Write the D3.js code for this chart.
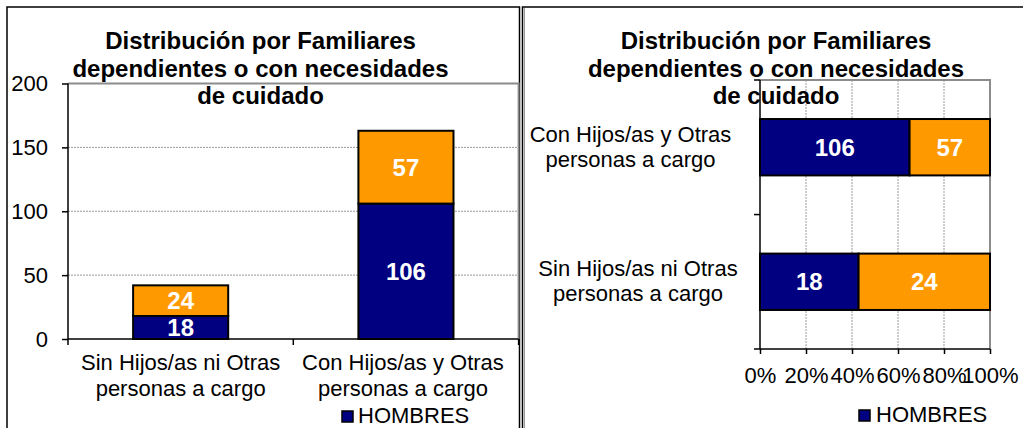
<!DOCTYPE html>
<html>
<head>
<meta charset="utf-8">
<script src="https://cdn.jsdelivr.net/npm/d3@7"></script>
<style>
  html, body { margin: 0; padding: 0; background: #fff; }
  svg { display: block; font-family: "Liberation Sans", Arial, sans-serif; }
</style>
</head>
<body>
<svg id="chart" width="1023" height="428"></svg>
<script>
// ---- data ----
const categories = ["Sin Hijos/as ni Otras personas a cargo", "Con Hijos/as y Otras personas a cargo"];
const categoryLines = [["Sin Hijos/as ni Otras", "personas a cargo"], ["Con Hijos/as y Otras", "personas a cargo"]];
const hombres = [18, 106];
const mujeres = [24, 57];
const countTicks = [0, 50, 100, 150, 200];
const pctTicks = [0, 0.2, 0.4, 0.6, 0.8, 1];
const titleLines = ["Distribución por Familiares", "dependientes o con necesidades", "de cuidado"];
const legendLabel = "HOMBRES";

const NAVY = "#000080", ORANGE = "#FF9900";
const svg = d3.select("#chart");

// panel frames
svg.append("rect").attr("x", 7).attr("y", 7).attr("width", 512.5).attr("height", 440)
  .attr("fill", "none").attr("stroke", "#000").attr("stroke-width", 1.5);
svg.append("rect").attr("x", 522.5).attr("y", 7).attr("width", 520).attr("height", 440)
  .attr("fill", "none").attr("stroke", "#000").attr("stroke-width", 1.5);
svg.append("line").attr("x1", 524.5).attr("x2", 524.5).attr("y1", 8).attr("y2", 428)
  .attr("stroke", "#999").attr("stroke-width", 1);

function title(cx) {
  const t = svg.append("text").attr("text-anchor", "middle").attr("font-weight", "bold")
    .attr("font-size", 24).attr("fill", "#000");
  titleLines.forEach((l, i) => t.append("tspan").attr("x", cx).attr("y", 49.3 + i * 27.5).text(l));
}

// ================= LEFT: stacked columns =================
{
  const L = 68, R = 518.6, T = 83.5, B = 339;
  const x = d3.scaleBand().domain(categories).range([L, R]).paddingInner(0.578).paddingOuter(0.289);
  const y = d3.scaleLinear().domain([0, 200]).range([B, T]);
  const g = svg.append("g");

  // gridlines
  g.selectAll(".grid").data(countTicks.filter(d => d > 0 && d < 200)).join("line")
    .attr("x1", L).attr("x2", R).attr("y1", d => y(d)).attr("y2", d => y(d))
    .attr("stroke", "#9a9a9a").attr("stroke-width", 1).attr("stroke-dasharray", "2,1");
  // plot border top/right
  g.append("path").attr("d", `M${L},${y(200)}H${R}V${B}`).attr("fill", "none")
    .attr("stroke", "#8c8c8c").attr("stroke-width", 2);

  // bars
  categories.forEach((c, i) => {
    const segs = [{v0: 0, v1: hombres[i], col: NAVY, val: hombres[i]},
                  {v0: hombres[i], v1: hombres[i] + mujeres[i], col: ORANGE, val: mujeres[i]}];
    segs.forEach(s => {
      g.append("rect").attr("x", x(c)).attr("width", x.bandwidth())
        .attr("y", y(s.v1)).attr("height", y(s.v0) - y(s.v1))
        .attr("fill", s.col).attr("stroke", "#000").attr("stroke-width", 2);
      g.append("text").attr("x", x(c) + x.bandwidth() / 2).attr("y", (y(s.v0) + y(s.v1)) / 2)
        .attr("dy", "0.36em").attr("text-anchor", "middle").attr("font-weight", "bold")
        .attr("font-size", 24).attr("fill", "#fff").text(s.val);
    });
  });

  // y axis
  const ya = d3.axisLeft(y).tickValues(countTicks).tickSize(6).tickPadding(14);
  const yg = g.append("g").attr("transform", `translate(${L},0)`).call(ya);
  yg.select(".domain").attr("stroke", "#000").attr("stroke-width", 1.5).attr("d", `M0,${T}V${B}`);
  yg.selectAll(".tick line").attr("stroke", "#000").attr("stroke-width", 1.5);
  yg.selectAll(".tick text").attr("font-size", 22).attr("fill", "#000")
    .attr("font-family", "Liberation Sans, Arial, sans-serif");

  // x axis line + ticks at band boundaries
  g.append("line").attr("x1", L).attr("x2", R).attr("y1", B).attr("y2", B)
    .attr("stroke", "#000").attr("stroke-width", 1.5);
  const step = x.step();
  const bounds = [L, L + step, R];
  g.selectAll(".xt").data(bounds).join("line")
    .attr("x1", d => d).attr("x2", d => d).attr("y1", B).attr("y2", B + 6)
    .attr("stroke", "#000").attr("stroke-width", 1.5);
  categories.forEach((c, i) => {
    const t = g.append("text").attr("text-anchor", "middle").attr("font-size", 22).attr("fill", "#000");
    categoryLines[i].forEach((l, k) => t.append("tspan")
      .attr("x", x(c) + x.bandwidth() / 2 - (i === 1 ? 3 : 0)).attr("y", 369.5 + k * 26).text(l));
  });

  title(260.5);

  // legend
  g.append("rect").attr("x", 342).attr("y", 411).attr("width", 11).attr("height", 11)
    .attr("fill", NAVY).attr("stroke", "#000").attr("stroke-width", 1.5);
  g.append("text").attr("x", 358).attr("y", 423).attr("font-size", 22).attr("fill", "#000").text(legendLabel);
}

// ================= RIGHT: 100% stacked bars =================
{
  const L = 760, R = 990, T = 80, B = 349;
  const order = [categories[1], categories[0]];
  const y = d3.scaleBand().domain(order).range([T, B]).paddingInner(0.581).paddingOuter(0.29);
  const x = d3.scaleLinear().domain([0, 1]).range([L, R]);
  const g = svg.append("g");

  g.selectAll(".grid").data(pctTicks.filter(d => d > 0 && d < 1)).join("line")
    .attr("x1", d => x(d)).attr("x2", d => x(d)).attr("y1", T).attr("y2", B)
    .attr("stroke", "#9a9a9a").attr("stroke-width", 1).attr("stroke-dasharray", "2,1");
  g.append("path").attr("d", `M${L},${T}H${R}V${B}`).attr("fill", "none")
    .attr("stroke", "#8c8c8c").attr("stroke-width", 2);

  title(776);

  categories.forEach((c, i) => {
    const tot = hombres[i] + mujeres[i];
    const segs = [{p0: 0, p1: hombres[i] / tot, col: NAVY, val: hombres[i]},
                  {p0: hombres[i] / tot, p1: 1, col: ORANGE, val: mujeres[i]}];
    segs.forEach(s => {
      g.append("rect").attr("x", x(s.p0)).attr("width", x(s.p1) - x(s.p0))
        .attr("y", y(c)).attr("height", y.bandwidth())
        .attr("fill", s.col).attr("stroke", "#000").attr("stroke-width", 2);
      g.append("text").attr("x", (x(s.p0) + x(s.p1)) / 2).attr("y", y(c) + y.bandwidth() / 2)
        .attr("dy", "0.36em").attr("text-anchor", "middle").attr("font-weight", "bold")
        .attr("font-size", 24).attr("fill", "#fff").text(s.val);
    });
    const t = g.append("text").attr("text-anchor", "middle").attr("font-size", 22).attr("fill", "#000");
    const cy = y(c) + y.bandwidth() / 2;
    categoryLines[i].forEach((l, k) => t.append("tspan")
      .attr("x", L - (i === 1 ? 129.5 : 122)).attr("y", cy - 5.5 + k * 25).text(l));
  });

  // left axis
  g.append("line").attr("x1", L).attr("x2", L).attr("y1", T).attr("y2", B)
    .attr("stroke", "#000").attr("stroke-width", 1.5);
  const yb = [T, T + y.step(), B];
  g.selectAll(".yt").data(yb).join("line")
    .attr("x1", L - 6).attr("x2", L).attr("y1", d => d).attr("y2", d => d)
    .attr("stroke", "#000").attr("stroke-width", 1.5);

  // bottom axis
  const xa = d3.axisBottom(x).tickValues(pctTicks).tickFormat(d3.format(".0%")).tickSize(5).tickPadding(12);
  const xg = g.append("g").attr("transform", `translate(0,${B})`).call(xa);
  xg.select(".domain").attr("stroke", "#000").attr("stroke-width", 1.5).attr("d", `M${L},0H${R}`);
  xg.selectAll(".tick line").attr("stroke", "#000").attr("stroke-width", 1.5);
  xg.selectAll(".tick text").attr("font-size", 22).attr("fill", "#000")
    .attr("font-family", "Liberation Sans, Arial, sans-serif").attr("dy", 0).attr("y", 34);

  // legend
  g.append("rect").attr("x", 859).attr("y", 410).attr("width", 11).attr("height", 11)
    .attr("fill", NAVY).attr("stroke", "#000").attr("stroke-width", 1.5);
  g.append("text").attr("x", 876).attr("y", 422).attr("font-size", 22).attr("fill", "#000").text(legendLabel);
}
</script>
</body>
</html>
